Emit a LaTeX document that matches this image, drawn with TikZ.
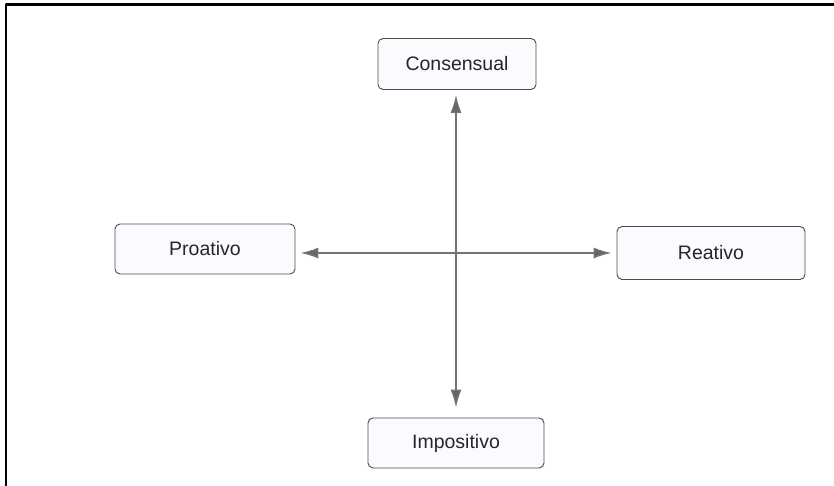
\documentclass[tikz,border=0pt]{standalone}
\usepackage{fontspec}
\setmainfont{Liberation Sans}
\usetikzlibrary{arrows.meta}

\begin{document}
\begin{tikzpicture}[x=1pt,y=-1pt,line cap=round,line join=round,
  box/.style={draw=black!70,line width=0.9pt,rounded corners=5pt,fill=blue!1.5,
    inner sep=0pt,font=\fontsize{19.5}{22}\selectfont,text=black!85},
  link/.style={draw=black!55,line width=1.3pt,
    {Latex[length=18pt,width=11pt,fill=black!60]}-{Latex[length=18pt,width=11pt,fill=black!60]}}]
  \useasboundingbox (0,0) rectangle (834,486);
  % frame
  \draw[line width=2.5pt] (6,486) -- (6,4.5) -- (834,4.5);

  % the four poles
  \node[box,minimum width=158pt,minimum height=51pt] (con) at (457,64) {Consensual};
  \node[box,minimum width=180pt,minimum height=50pt] (pro) at (205,249) {Proativo};
  \node[box,minimum width=188pt,minimum height=53pt] (rea) at (711,253) {Reativo};
  \node[box,minimum width=176pt,minimum height=50pt] (imp) at (456,443) {Impositivo};

  % axes
  \draw[link,shorten <=5pt,shorten >=10pt] (con.south -| imp.north) -- (imp.north);
  \draw[link,shorten <=5pt,shorten >=5pt] (pro.east |- rea.west) -- (rea.west);
\end{tikzpicture}
\end{document}
